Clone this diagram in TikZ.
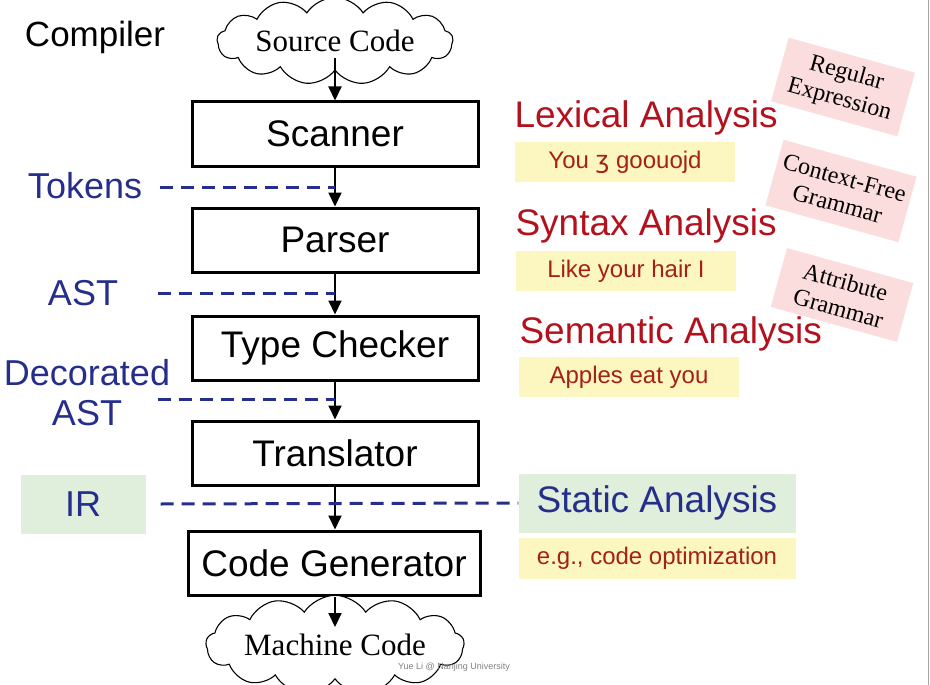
\documentclass[tikz,border=0pt]{standalone}
\usepackage{fontspec}
\setmainfont{Liberation Serif}
\setsansfont{Liberation Sans}
\newfontfamily\symfont{DejaVu Sans}
\usetikzlibrary{shapes.symbols, arrows.meta, positioning, calc, shadows}

\definecolor{stageblue}{RGB}{38,46,140}
\definecolor{stagered}{RGB}{178,18,30}
\definecolor{notered}{RGB}{165,32,22}
\definecolor{noteyellow}{RGB}{252,247,192}
\definecolor{notepink}{RGB}{251,221,221}
\definecolor{notegreen}{RGB}{224,238,220}

\begin{document}
\begin{tikzpicture}[x=1pt, y=-1pt, node distance=42pt]

\tikzset{
  stagebox/.style={rectangle, draw=black, line width=3pt, fill=white,
    minimum width=286pt, minimum height=64pt, inner sep=0pt,
    font=\fontsize{37}{40}\selectfont\sffamily,
    drop shadow={shadow xshift=2pt, shadow yshift=-2pt, opacity=0.25}},
  codecloud/.style={cloud, cloud puffs=13, cloud puff arc=115, aspect=3.8,
    draw=black, line width=1.1pt, fill=white, minimum width=236pt,
    minimum height=60pt, inner sep=0pt,
    font=\fontsize{31}{33}\selectfont\rmfamily},
  irlabel/.style={font=\fontsize{36}{40}\selectfont\sffamily, text=stageblue,
    align=center},
  phaselabel/.style={font=\fontsize{37}{40}\selectfont\sffamily,
    text=stagered, anchor=west},
  examplebox/.style={rectangle, fill=noteyellow, minimum width=220pt,
    minimum height=40pt, font=\fontsize{24}{26}\selectfont\sffamily,
    text=notered},
  formalbox/.style={rectangle, fill=notepink, rotate=-15.5, align=center,
    inner sep=0pt, font=\fontsize{24}{27}\selectfont\rmfamily},
  flow/.style={-{Triangle[length=14pt, width=13pt]}, line width=2pt, black},
  irline/.style={line width=3pt, stageblue, dash pattern=on 13pt off 8pt}
}

\useasboundingbox (0,0) rectangle (930,685);

% title and source
\node[font=\fontsize{35}{38}\selectfont\sffamily] (title) at (95,37) {Compiler};
\node[codecloud] (source) at (335,41) {Source Code};

% compiler stages
\node[stagebox] (scanner) at (335,134) {Scanner};
\node[stagebox] (parser) at (335,240) {Parser};
\node[stagebox] (checker) at (335,348) {Type Checker};
\node[stagebox] (translator) at (335,453) {Translator};
\node[stagebox, minimum width=292pt] (codegen) at (334,563)
  {Code Generator};
\node[codecloud] (machine) at (335,645) {Machine Code};

\draw[flow] ([yshift=-17pt]source.center) -- (scanner.north);
\draw[flow] (scanner.south)    -- (parser.north);
\draw[flow] (parser.south)     -- (checker.north);
\draw[flow] (checker.south)    -- (translator.north);
\draw[flow] (translator.south) -- (codegen.north -| translator.south);
\draw[flow] (codegen.south -| translator.south) -- ([yshift=18pt]machine.center);

% intermediate representations
\node[irlabel] (tokens) at (85,186) {Tokens};
\node[irlabel] (ast) at (83,293) {AST};
\node[irlabel] (decorated) at (87,393) {Decorated\\AST};
\node[rectangle, fill=notegreen, minimum width=125pt, minimum height=59pt,
  irlabel] (ir) at (83,504) {IR};

\coordinate (tokensend) at (160,187);
\coordinate (astend) at (158,293);
\coordinate (decoratedend) at (158,399);
\draw[irline] (tokensend) -- (tokensend -| scanner.south);
\draw[irline] (astend) -- (astend -| parser.south);
\draw[irline] (decoratedend) -- (decoratedend -| checker.south);

% analyses
\node[phaselabel] (lexical) at (511,118) {Lexical Analysis};
\node[examplebox] (lexex) at (625,162)
  {You {\symfont ʒ} goouojd};
\node[phaselabel] (syntax) at (512,226) {Syntax Analysis};
\node[examplebox] (synex) at (626,271) {Like your hair I};
\node[phaselabel] (semantic) at (516,334) {Semantic Analysis};
\node[examplebox] (semex) at (629,377) {Apples eat you};

\node[rectangle, fill=notegreen, minimum width=277pt, minimum height=59pt,
  font=\fontsize{37}{40}\selectfont\sffamily, text=stageblue] (static)
  at (657,503) {Static Analysis};
\node[examplebox, minimum width=277pt, minimum height=41pt] (optex)
  at (657,558) {e.g., code optimization};

\draw[irline] ([xshift=15pt]ir.east) -- (static.west);

% formalisms
\node[formalbox, minimum width=131pt, minimum height=66pt] (regex)
  at (843,87) {Regular\\Expression};
\node[formalbox, minimum width=138pt, minimum height=68pt] (cfg)
  at (841,191) {Context-Free\\Grammar};
\node[formalbox, minimum width=131pt, minimum height=61pt] (attr)
  at (842,295) {Attribute\\Grammar};

% slide border and credit
\draw[gray!70, line width=1.5pt] (928.5,0) -- (928.5,685);
\node[font=\fontsize{9}{10}\selectfont\sffamily, text=gray] (credit)
  at (454,667) {Yue Li @ Nanjing University};

\end{tikzpicture}
\end{document}
